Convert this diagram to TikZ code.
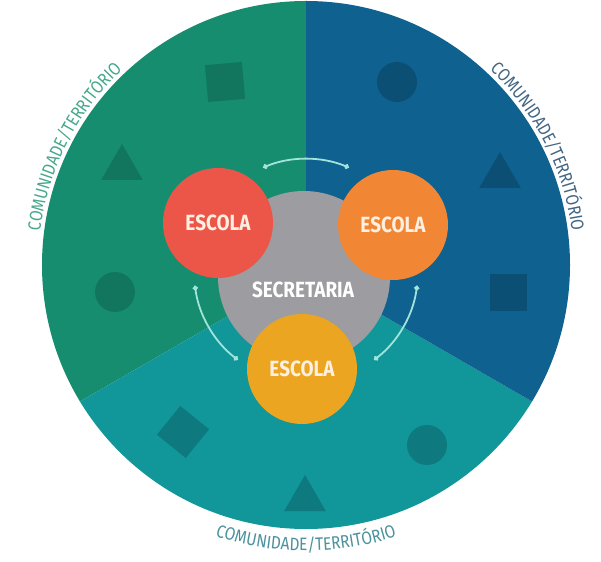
\documentclass[tikz,border=0pt]{standalone}
\usepackage{fontspec}
\newfontfamily\dinfont{Fira Sans}[FakeStretch=0.86]
\usetikzlibrary{arrows.meta,shapes.geometric,decorations.text}
\definecolor{secgreen}{RGB}{22,141,111}
\definecolor{secblue}{RGB}{15,97,143}
\definecolor{secteal}{RGB}{17,150,153}
\definecolor{dkgreen}{RGB}{17,118,93}
\definecolor{dkblue}{RGB}{11,79,117}
\definecolor{dkteal}{RGB}{14,122,127}
\definecolor{escred}{RGB}{236,86,73}
\definecolor{escorange}{RGB}{241,135,52}
\definecolor{escyellow}{RGB}{236,165,32}
\definecolor{hubgray}{RGB}{156,156,161}
\definecolor{linkcol}{RGB}{160,228,220}
\definecolor{lblgreen}{RGB}{70,168,138}
\definecolor{lblblue}{RGB}{66,102,132}
\definecolor{lblteal}{RGB}{76,146,158}
\definecolor{esctext}{RGB}{253,240,226}
\tikzset{
  escola/.style={circle, minimum size=110pt, inner sep=0pt, text=esctext,
    font=\dinfont\bfseries\fontsize{22}{22}\selectfont},
  dot/.style={circle, minimum size=40pt, inner sep=0pt},
  sq/.style={rectangle, minimum size=37pt, inner sep=0pt},
  tri/.style={regular polygon, regular polygon sides=3, minimum size=48pt, inner sep=0pt},
  link/.style={<->, line width=1.8pt, draw=linkcol},
  lbl/.style={decorate, decoration={text along path, text align=center, text={#1}}}
}
\begin{document}
\begin{tikzpicture}[x=1pt, y=1pt, line join=round, line cap=round, >={Circle[length=5pt]}]
\def\R{264pt}
\useasboundingbox (-306,-290) rectangle (295,271);
% territorio
\begin{scope}
\clip (0,6) circle (\R);
\fill[secgreen] (0,0)--(90:400pt)--(150:400pt)--(210:400pt)--cycle;
\fill[secteal] (0,0)--(210:400pt)--(270:400pt)--(330:400pt)--cycle;
\fill[secblue] (0,0)--(330:400pt)--(30:400pt)--(90:400pt)--cycle;
\end{scope}
\node[sq, fill=dkgreen, rotate=5] (sqgreen) at (-81,189) {};
\node[tri, fill=dkgreen] (trigreen) at (-184,103) {};
\node[dot, fill=dkgreen] (dotgreen) at (-191,-21) {};
\node[dot, fill=dkblue] (dotblue) at (91,189) {};
\node[tri, fill=dkblue] (triblue) at (194,95) {};
\node[sq, fill=dkblue] (sqblue) at (202,-22) {};
\node[sq, fill=dkteal, rotate=51] (sqteal) at (-123,-161) {};
\node[tri, fill=dkteal] (triteal) at (-1,-228) {};
\node[dot, fill=dkteal] (dotteal) at (121,-174) {};
% secretaria e escolas
\node[circle, fill=hubgray, minimum size=172pt, inner sep=0pt] (secretaria) at (-2,-6) {};
\node[text=white, font=\dinfont\bfseries\fontsize{22}{22}\selectfont] (sectext) at (-3,-19) {SECRETARIA};
\node[escola, fill=escred] (escolaA) at (-88,48) {ESCOLA};
\node[escola, fill=escorange] (escolaB) at (87,46) {ESCOLA};
\node[escola, fill=escyellow] (escolaC) at (-4,-98) {ESCOLA};
\draw[link] (112.5:112pt) arc (112.5:67.5:112pt);
\draw[link] (187.5:112pt) arc (187.5:232.5:112pt);
\draw[link] (307.5:112pt) arc (307.5:352.5:112pt);
% rotulos
\begin{scope}[shift={(0,6)}]
\path[lbl={|\dinfont\fontsize{18}{18}\selectfont\color{lblgreen}|COMUNIDADE/TERRITÓRIO}] (183:268pt) arc (183:123:268pt);
\path[lbl={|\dinfont\fontsize{18}{18}\selectfont\color{lblblue}|COMUNIDADE/TERRITÓRIO}] (57:268pt) arc (57:-3:268pt);
\path[lbl={|\dinfont\fontsize{18}{18}\selectfont\color{lblteal}|COMUNIDADE/TERRITÓRIO}] (240:286pt) arc (240:300:286pt);
\end{scope}
\end{tikzpicture}
\end{document}
